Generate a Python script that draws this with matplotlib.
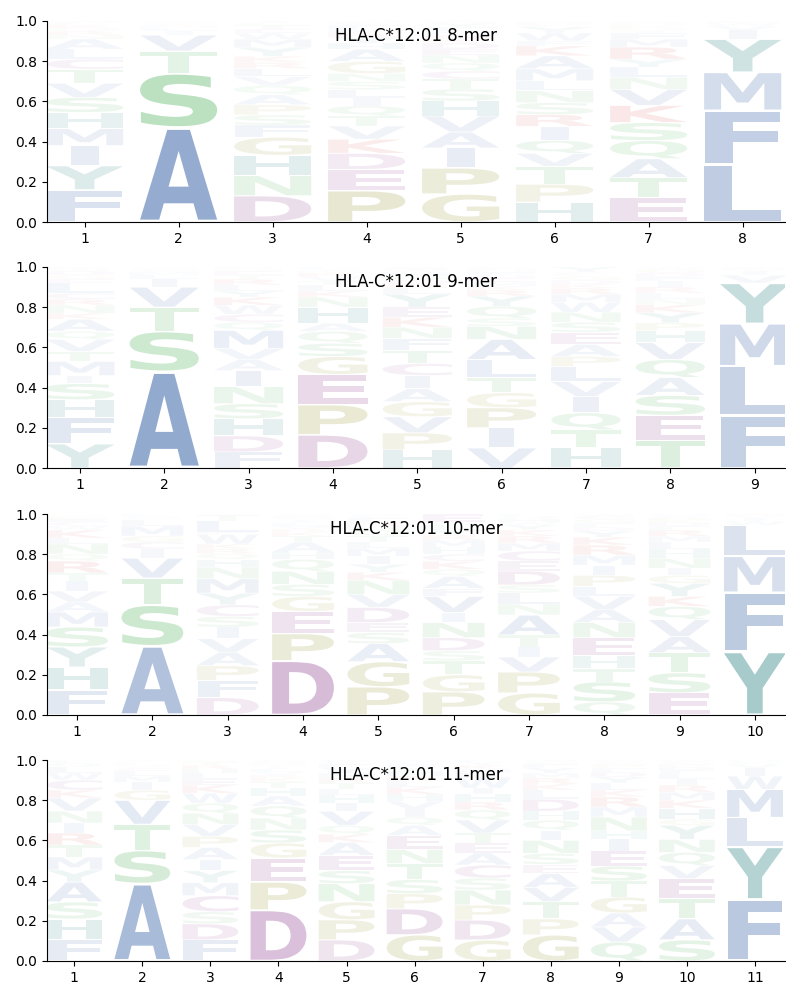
import matplotlib
matplotlib.use("Agg")
import matplotlib.pyplot as plt
from matplotlib.textpath import TextPath
from matplotlib.patches import PathPatch
from matplotlib.font_manager import FontProperties
from matplotlib.transforms import Affine2D

# letter probabilities per position, listed bottom -> top
logo_8mer = [
    {'F': .16, 'Y': .12, 'I': .10, 'M': .085, 'H': .08, 'S': .075, 'V': .07, 'T': .07, 'C': .05,
     'L': .05, 'A': .05, 'N': .02, 'R': .02, 'Q': .015, 'K': .015, 'E': .01, 'W': .01},
    {'A': .47, 'S': .27, 'T': .11, 'V': .08, 'I': .02, 'L': .015, 'M': .01, 'C': .01, 'G': .005,
     'Q': .005, 'N': .005},
    {'D': .13, 'N': .10, 'H': .10, 'G': .09, 'F': .06, 'S': .05, 'P': .05, 'A': .05, 'Q': .045,
     'V': .045, 'L': .04, 'R': .03, 'K': .03, 'Y': .045, 'M': .04, 'W': .03, 'E': .02, 'T': .02,
     'C': .01, 'I': .01},
    {'P': .155, 'E': .105, 'D': .08, 'K': .07, 'V': .065, 'T': .05, 'Q': .05, 'I': .04, 'L': .04,
     'S': .04, 'N': .04, 'G': .06, 'A': .06, 'H': .03, 'Y': .03, 'R': .02, 'M': .02, 'F': .02,
     'C': .01, 'W': .01},
    {'G': .14, 'P': .13, 'I': .10, 'A': .08, 'V': .08, 'H': .075, 'S': .06, 'T': .05, 'C': .04,
     'Q': .04, 'N': .04, 'E': .03, 'D': .03, 'K': .02, 'R': .02, 'M': .02, 'F': .02, 'Y': .02,
     'W': .01},
    {'H': .10, 'P': .09, 'T': .09, 'V': .065, 'Q': .065, 'I': .07, 'R': .06, 'S': .06, 'N': .06,
     'L': .05, 'M': .06, 'A': .065, 'K': .05, 'F': .025, 'W': .04, 'Y': .03, 'C': .01, 'D': .01,
     'G': .01},
    {'E': .12, 'T': .10, 'A': .095, 'Q': .09, 'S': .09, 'K': .085, 'V': .08, 'N': .06, 'L': .05,
     'Y': .04, 'R': .06, 'M': .04, 'F': .03, 'I': .01, 'G': .01, 'D': .01, 'P': .01, 'H': .01,
     'C': .005, 'W': .005},
    {'L': .285, 'F': .27, 'M': .19, 'Y': .165, 'I': .045, 'V': .02, 'W': .015, 'C': .01},
]

logo_9mer = [
    {'Y': .12, 'F': .13, 'H': .09, 'S': .08, 'I': .04, 'M': .07, 'T': .05, 'V': .06, 'Q': .04,
     'A': .06, 'K': .03, 'N': .04, 'R': .03, 'C': .03, 'L': .05, 'E': .02, 'G': .02, 'D': .02,
     'W': .01, 'P': .01},
    {'A': .48, 'S': .20, 'T': .12, 'V': .10, 'I': .04, 'L': .02, 'M': .015, 'C': .01, 'G': .01,
     'Q': .005},
    {'F': .08, 'D': .08, 'H': .085, 'S': .075, 'N': .085, 'I': .08, 'A': .055, 'V': .055, 'M': .09,
     'Q': .04, 'C': .04, 'W': .045, 'K': .04, 'Y': .03, 'L': .03, 'R': .03, 'T': .02, 'E': .02,
     'G': .01, 'P': .01},
    {'D': .165, 'P': .15, 'E': .15, 'G': .09, 'S': .065, 'Q': .06, 'A': .04, 'H': .08, 'N': .05,
     'K': .03, 'L': .03, 'T': .02, 'V': .02, 'R': .02, 'M': .01, 'Y': .01, 'F': .01},
    {'H': .09, 'P': .085, 'V': .08, 'G': .075, 'A': .065, 'I': .065, 'C': .06, 'T': .065, 'F': .06,
     'N': .055, 'K': .05, 'E': .05, 'Y': .065, 'L': .03, 'R': .02, 'D': .02, 'Q': .02, 'M': .02,
     'W': .01, 'S': .015},
    {'V': .10, 'I': .10, 'P': .10, 'G': .075, 'T': .075, 'L': .09, 'A': .10, 'N': .065, 'S': .04,
     'Q': .06, 'Y': .05, 'R': .03, 'K': .02, 'M': .02, 'E': .02, 'D': .015, 'F': .015, 'H': .01,
     'C': .01, 'W': .005},
    {'H': .10, 'T': .09, 'Q': .085, 'I': .08, 'V': .075, 'L': .075, 'P': .05, 'A': .06, 'E': .06,
     'S': .05, 'N': .05, 'W': .05, 'M': .04, 'R': .03, 'K': .02, 'D': .02, 'G': .02, 'F': .01,
     'C': .01, 'Y': .025},
    {'T': .14, 'E': .125, 'S': .10, 'A': .09, 'Q': .09, 'V': .085, 'H': .06, 'P': .04, 'Y': .05,
     'K': .04, 'N': .03, 'L': .03, 'R': .03, 'I': .03, 'F': .02, 'D': .02, 'G': .02, 'W': .01},
    {'F': .26, 'L': .245, 'M': .21, 'Y': .20, 'V': .04, 'I': .02, 'W': .01, 'C': .01},
]

logo_10mer = [
    {'F': .125, 'H': .115, 'Y': .10, 'S': .10, 'M': .075, 'A': .05, 'V': .055, 'I': .05, 'T': .04,
     'R': .06, 'Q': .035, 'N': .05, 'L': .03, 'K': .04, 'W': .02, 'C': .02, 'E': .015, 'D': .01,
     'G': .01, 'P': .005},
    {'A': .345, 'S': .205, 'T': .135, 'V': .10, 'I': .045, 'C': .035, 'G': .03, 'M': .05, 'L': .03,
     'Q': .01, 'W': .01, 'F': .01},
    {'D': .09, 'F': .09, 'P': .075, 'A': .07, 'V': .07, 'I': .06, 'S': .055, 'C': .06, 'Y': .06,
     'M': .075, 'N': .06, 'H': .04, 'Q': .03, 'R': .025, 'K': .025, 'W': .05, 'E': .01, 'L': .06,
     'T': .03, 'G': .005},
    {'D': .27, 'P': .135, 'E': .11, 'G': .075, 'S': .06, 'N': .065, 'Q': .06, 'H': .035, 'A': .05,
     'T': .03, 'K': .02, 'R': .015, 'V': .015, 'L': .015, 'I': .01, 'Y': .01, 'M': .01, 'F': .005,
     'C': .005, 'W': .005},
    {'P': .14, 'G': .125, 'A': .09, 'S': .055, 'E': .05, 'D': .075, 'V': .065, 'N': .07, 'K': .04,
     'Y': .04, 'I': .04, 'M': .04, 'L': .03, 'T': .03, 'Q': .03, 'H': .02, 'R': .02, 'F': .02,
     'C': .01, 'W': .01},
    {'P': .115, 'G': .085, 'T': .07, 'S': .05, 'D': .065, 'N': .075, 'I': .05, 'V': .08, 'F': .04,
     'A': .06, 'Q': .035, 'K': .04, 'C': .035, 'H': .035, 'M': .035, 'R': .025, 'Y': .025,
     'L': .025, 'W': .015, 'E': .04},
    {'G': .11, 'P': .105, 'V': .075, 'I': .05, 'T': .06, 'A': .10, 'N': .055, 'L': .055, 'S': .04,
     'D': .07, 'E': .05, 'C': .05, 'M': .04, 'R': .035, 'K': .03, 'Y': .025, 'W': .015, 'H': .015,
     'Q': .015, 'F': .01},
    {'Q': .065, 'S': .10, 'T': .065, 'H': .065, 'E': .09, 'N': .075, 'A': .065, 'V': .065, 'L': .05,
     'P': .055, 'I': .05, 'M': .05, 'R': .05, 'K': .04, 'Y': .03, 'D': .02, 'F': .02, 'G': .02,
     'C': .015, 'W': .01},
    {'E': .11, 'S': .10, 'T': .10, 'A': .08, 'V': .085, 'Q': .065, 'K': .05, 'Y': .065, 'G': .04,
     'I': .035, 'N': .05, 'H': .045, 'L': .035, 'M': .03, 'R': .03, 'F': .02, 'D': .02, 'P': .02,
     'C': .01, 'W': .01},
    {'Y': .315, 'F': .295, 'M': .18, 'L': .155, 'W': .02, 'I': .015, 'V': .01, 'C': .005, 'H': .005},
]

logo_11mer = [
    {'F': .11, 'H': .10, 'S': .085, 'A': .10, 'Y': .06, 'M': .065, 'T': .06, 'R': .06, 'I': .05,
     'N': .06, 'V': .065, 'K': .04, 'C': .05, 'W': .035, 'L': .03, 'Q': .02, 'E': .01, 'D': .005},
    {'A': .385, 'S': .165, 'T': .13, 'V': .12, 'G': .05, 'I': .04, 'M': .03, 'L': .025, 'C': .015,
     'Q': .01, 'N': .01, 'F': .01, 'Y': .01},
    {'F': .105, 'D': .08, 'S': .06, 'C': .08, 'M': .065, 'Y': .06, 'I': .055, 'A': .06, 'P': .055,
     'V': .06, 'N': .055, 'Q': .05, 'W': .05, 'K': .04, 'E': .03, 'L': .03, 'H': .02, 'R': .02,
     'T': .015, 'G': .01},
    {'D': .255, 'P': .14, 'E': .12, 'G': .075, 'S': .065, 'N': .06, 'Q': .06, 'A': .05, 'H': .04,
     'T': .03, 'K': .02, 'R': .015, 'V': .015, 'L': .015, 'I': .01, 'Y': .01, 'M': .01, 'F': .005,
     'C': .005, 'W': .005},
    {'D': .105, 'P': .10, 'G': .09, 'N': .09, 'S': .065, 'E': .075, 'A': .065, 'K': .04, 'Q': .045,
     'V': .07, 'I': .04, 'H': .04, 'L': .03, 'T': .03, 'R': .025, 'M': .025, 'Y': .025, 'F': .02,
     'C': .01, 'W': .01},
    {'G': .13, 'D': .13, 'P': .075, 'S': .07, 'T': .08, 'N': .07, 'E': .07, 'A': .05, 'Q': .04,
     'I': .04, 'V': .04, 'H': .035, 'K': .035, 'L': .03, 'R': .025, 'M': .025, 'Y': .02, 'F': .015,
     'C': .01, 'W': .01},
    {'G': .105, 'D': .10, 'P': .075, 'N': .075, 'S': .06, 'C': .065, 'A': .06, 'E': .05, 'T': .05,
     'V': .065, 'Q': .05, 'R': .04, 'H': .04, 'I': .03, 'W': .05, 'L': .025, 'M': .02, 'K': .02,
     'Y': .015, 'F': .01},
    {'G': .13, 'P': .08, 'T': .085, 'V': .071, 'A': .07, 'E': .045, 'S': .055, 'N': .065, 'I': .05,
     'Q': .05, 'H': .045, 'D': .06, 'L': .045, 'K': .03, 'R': .03, 'M': .025, 'Y': .025, 'F': .02,
     'C': .01, 'W': .01},
    {'Q': .095, 'V': .075, 'A': .07, 'G': .08, 'T': .08, 'S': .075, 'E': .075, 'I': .06, 'H': .04,
     'N': .07, 'M': .05, 'R': .05, 'K': .035, 'L': .035, 'Y': .03, 'D': .025, 'F': .02, 'P': .02,
     'C': .01, 'W': .01},
    {'S': .105, 'A': .105, 'T': .10, 'E': .10, 'V': .065, 'Q': .065, 'N': .065, 'Y': .07, 'G': .03,
     'H': .055, 'K': .04, 'M': .04, 'R': .035, 'I': .03, 'L': .025, 'F': .02, 'D': .015, 'P': .015,
     'C': .01, 'W': .01},
    {'F': .305, 'Y': .26, 'L': .145, 'M': .14, 'W': .065, 'I': .04, 'V': .02, 'C': .01, 'H': .01},
]

titles = ['HLA-C*12:01 8-mer', 'HLA-C*12:01 9-mer', 'HLA-C*12:01 10-mer', 'HLA-C*12:01 11-mer']
logos = [logo_8mer, logo_9mer, logo_10mer, logo_11mer]
xlims = [(0.6, 8.45), (0.61, 9.36), (0.6, 10.4), (0.6, 11.44)]

groups = {
    '#4C72B0': 'AVLIMFW',
    '#1f7a7a': 'YH',
    '#3aa845': 'STNQ',
    '#8c8c1e': 'GP',
    '#8b3a8b': 'DEC',
    '#d62728': 'KR',
}
aa_color = {aa: col for col, aas in groups.items() for aa in aas}

font = FontProperties(family='DejaVu Sans', weight='bold')
letter_width = 0.82
vpad = 0.025
# narrow glyphs (I, L, F ...) are not stretched wider than an 'E' would be
ref_width = TextPath((0, 0), 'E', size=1, prop=font).get_extents().width


def draw_letter(ax, ch, x, y0, h, color, alpha):
    tp = TextPath((0, 0), ch, size=1, prop=font)
    bb = tp.get_extents()
    hh = h * (1 - 2 * vpad)
    sx = min(letter_width / bb.width, letter_width / ref_width)
    w = bb.width * sx
    tr = (Affine2D().translate(-bb.x0, -bb.y0)
          .scale(sx, hh / bb.height)
          .translate(x - w / 2, y0 + h * vpad))
    patch = PathPatch(tr.transform_path(tp), facecolor=color, edgecolor='none',
                      alpha=alpha, zorder=1)
    ax.add_patch(patch)


fig = plt.figure(figsize=(8, 10), dpi=100)
bottoms = [0.778, 0.532, 0.285, 0.039]

for logo, title, xl, b in zip(logos, titles, xlims, bottoms):
    ax = fig.add_axes([0.05875, b, 0.9225, 0.201])
    for i, pos in enumerate(logo):
        total = sum(pos.values())
        y = 0.0
        for ch, v in pos.items():
            p = v / total
            draw_letter(ax, ch, i + 1, y, p, aa_color[ch], min(1.0, 1.25 * p))
            y += p
    ax.set_xlim(*xl)
    ax.set_ylim(0, 1)
    ax.set_xticks(range(1, len(logo) + 1))
    ax.set_yticks([0, 0.2, 0.4, 0.6, 0.8, 1.0])
    ax.spines['top'].set_visible(False)
    ax.spines['right'].set_visible(False)
    ax.text(0.5, 0.925, title, transform=ax.transAxes, ha='center', va='center',
            fontsize=12, zorder=5)

fig.savefig('out.png', dpi=100)
